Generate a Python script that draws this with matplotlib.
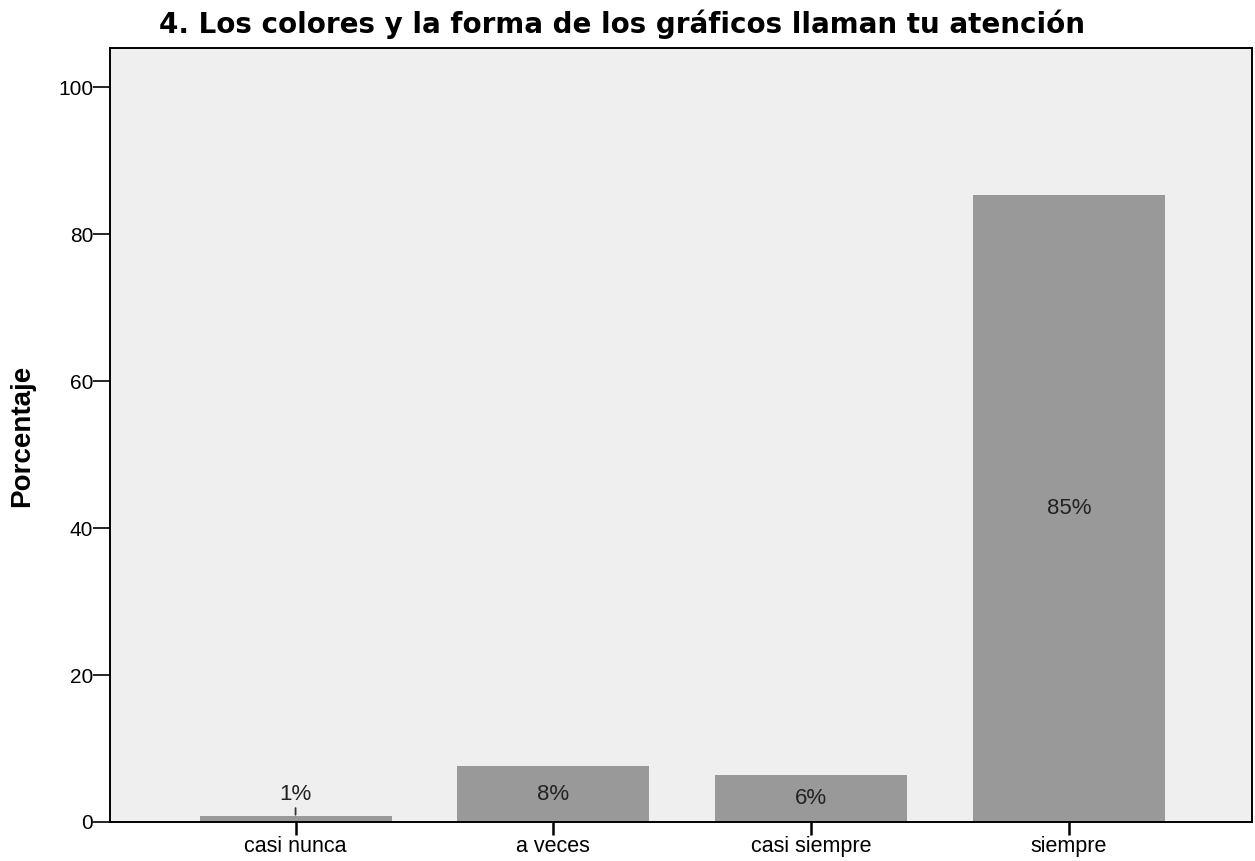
import matplotlib.pyplot as plt

# respuestas a la pregunta 4 (porcentaje)
categorias = ["casi nunca", "a veces", "casi siempre", "siempre"]
porcentajes = [0.8, 7.6, 6.4, 85.3]
y_ticks = [0, 20, 40, 60, 80, 100]

TITULO = "4. Los colores y la forma de los gráficos llaman tu atención"

plt.rcParams["font.family"] = ["Liberation Sans", "DejaVu Sans"]

fig = plt.figure(figsize=(12.55, 8.61), dpi=100)
ax = fig.add_axes([0.0876, 0.0453, 0.91, 0.8987])
ax.set_facecolor("#efefef")

x = list(range(len(categorias)))
ax.bar(x, porcentajes, width=0.745, color="#999999", edgecolor="none", zorder=2)

for xi, v in zip(x, porcentajes):
    etiqueta = f"{v:.0f}%"
    if v > 3:
        ax.text(xi, v / 2, etiqueta, ha="center", va="center", fontsize=16, color="#222222")
    else:
        # etiqueta fuera de la barra con una pequeña línea guía
        ax.annotate(etiqueta, xy=(xi, v), xytext=(xi, v + 2.9),
                    ha="center", va="center", fontsize=16, color="#222222",
                    arrowprops=dict(arrowstyle="-", color="#333333", lw=1.3,
                                    shrinkA=0, shrinkB=1))

ax.set_xlim(-0.72, 3.71)
ax.set_ylim(0, 105.3)
ax.set_xticks(x)
ax.set_xticklabels(categorias, fontsize=15.5)
ax.set_yticks(y_ticks)
ax.set_yticklabels([str(t) for t in y_ticks], fontsize=15)
ax.tick_params(axis="y", length=12, width=1.2, pad=0)
ax.tick_params(axis="x", length=9, width=1.8, pad=1)

for s in ax.spines.values():
    s.set_color("black")
    s.set_linewidth(1.4)

fig.text(22 / 1255, 0.494, "Porcentaje", rotation=90, ha="center", va="center",
         fontsize=20, fontweight="bold")
fig.text(0.496, 1 - 33 / 861, TITULO, ha="center", va="baseline",
         fontsize=20, fontweight="bold", family="DejaVu Sans")

fig.savefig("out.png", dpi=100)
